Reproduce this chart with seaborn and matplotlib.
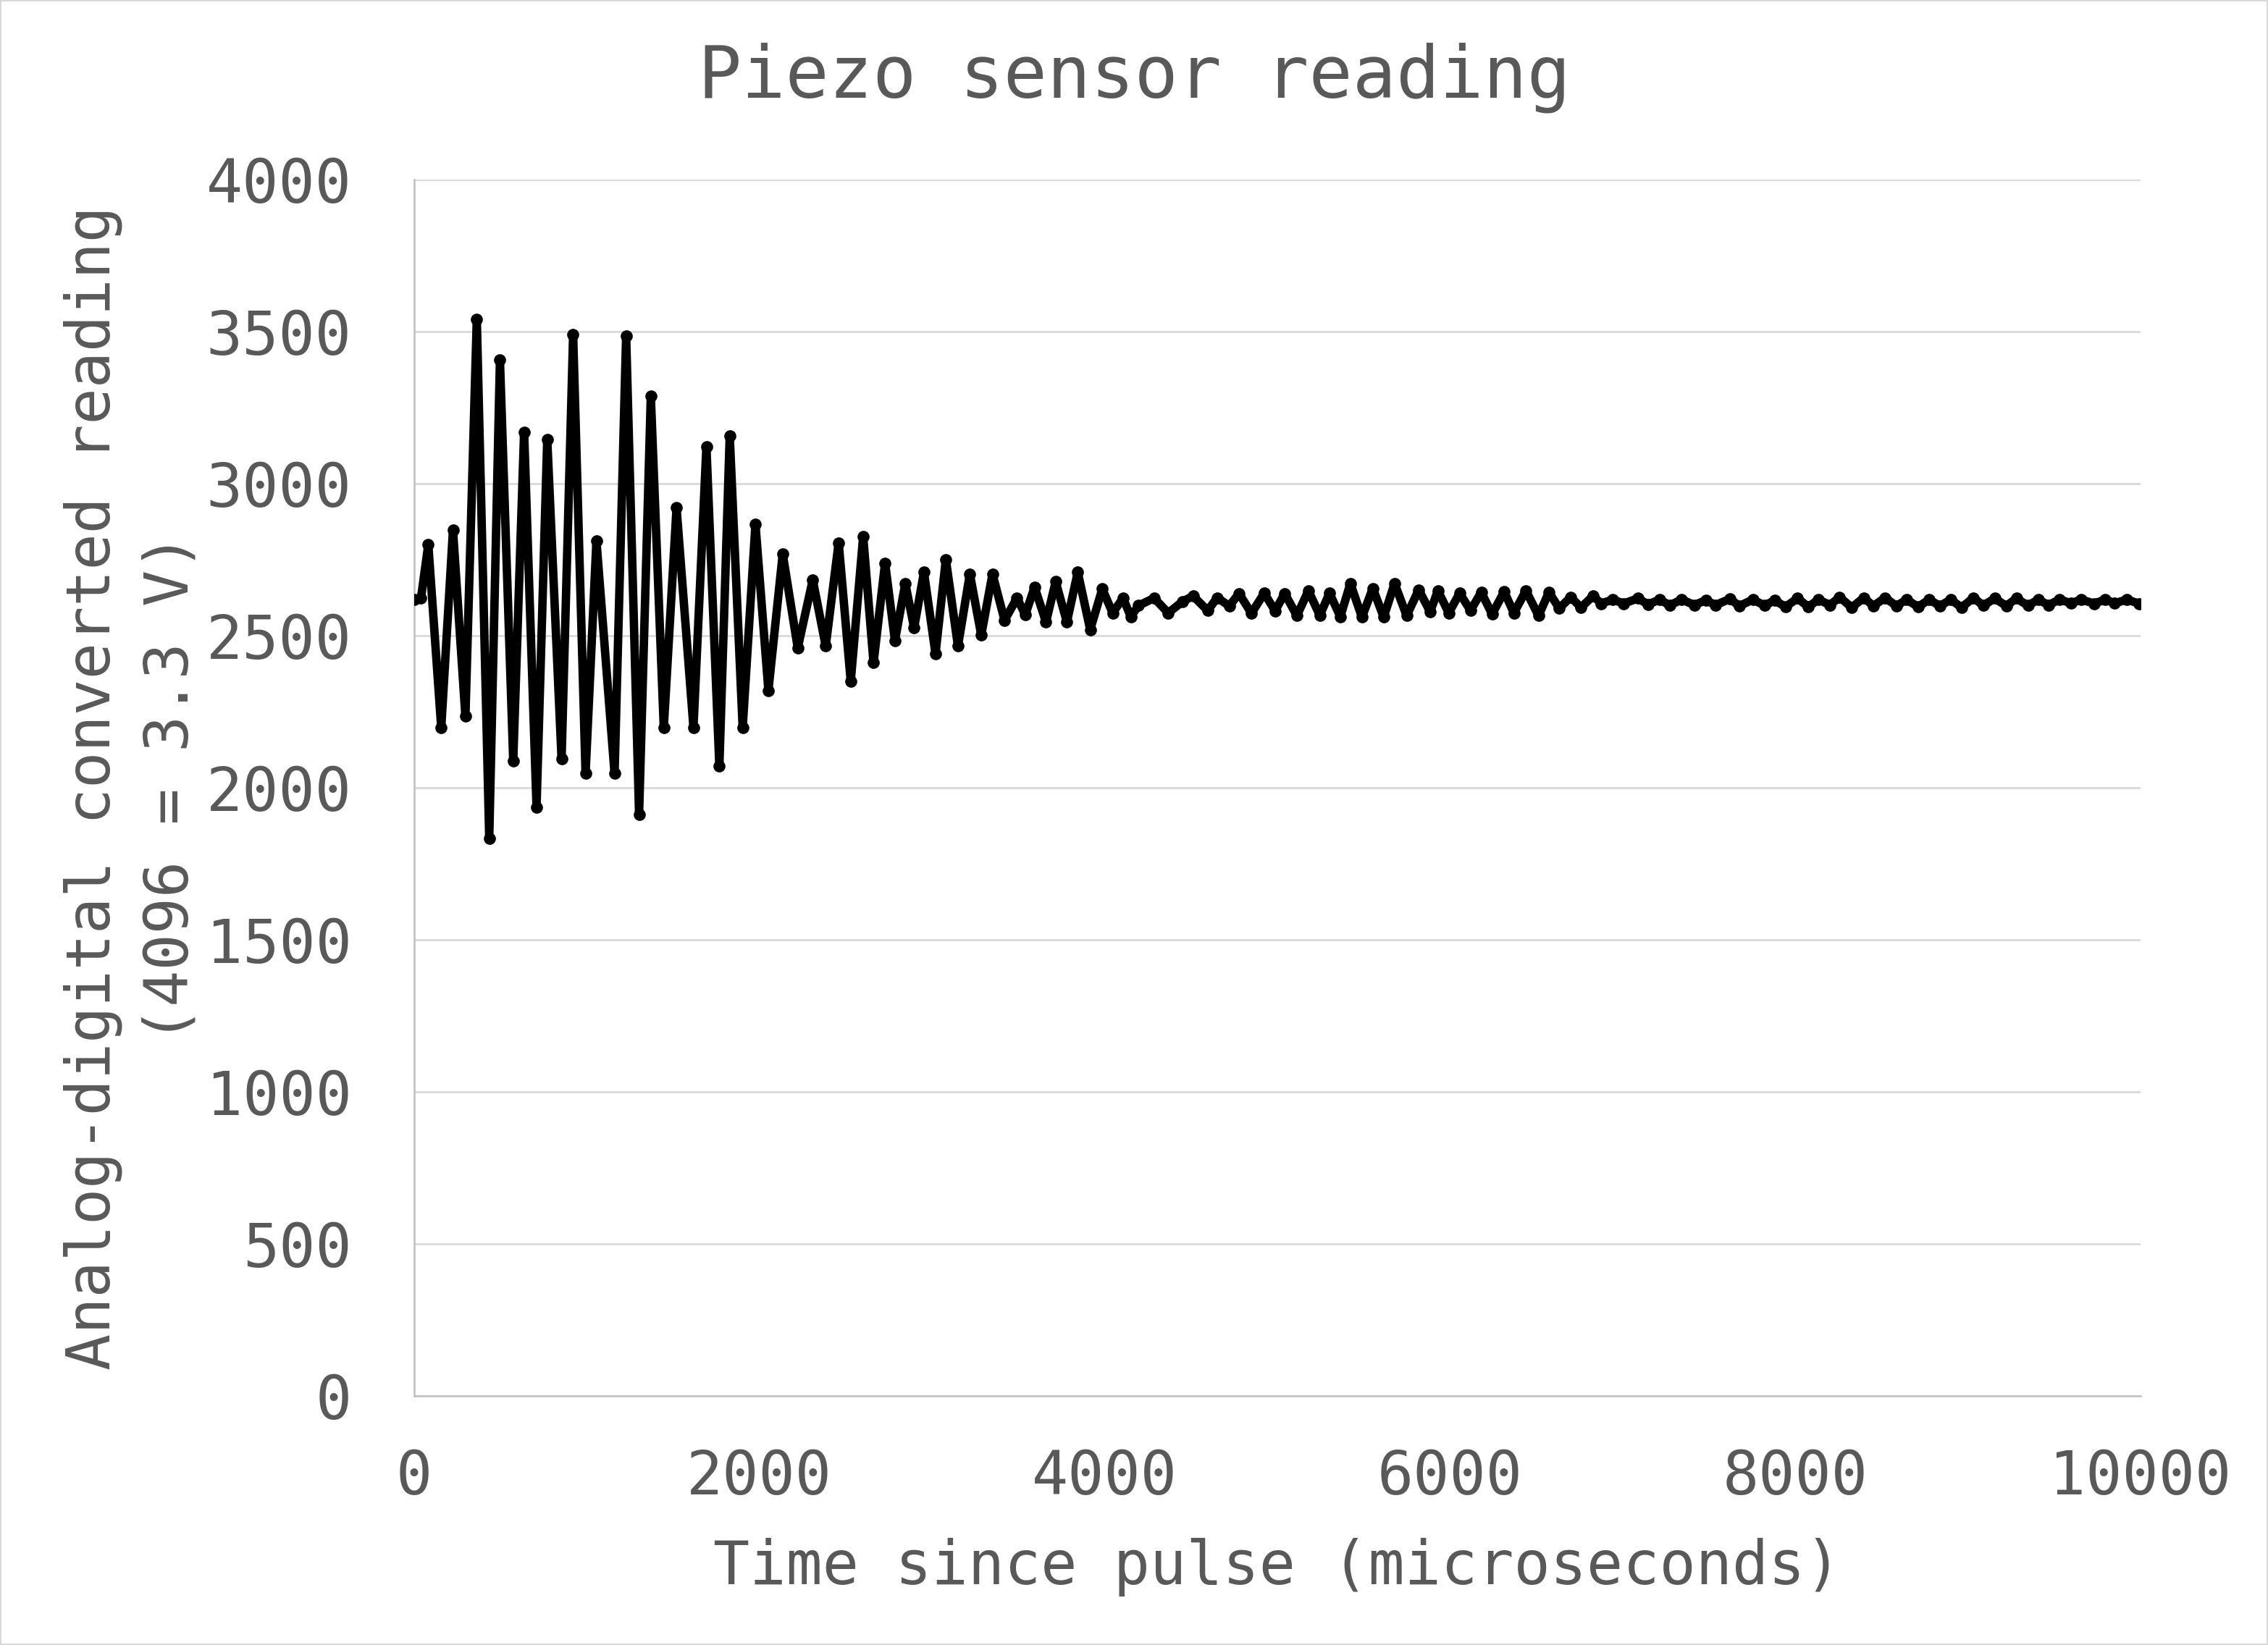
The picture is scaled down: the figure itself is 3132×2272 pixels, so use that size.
import matplotlib
matplotlib.use("Agg")
import matplotlib.pyplot as plt
from matplotlib.patches import Rectangle
import seaborn as sns
import pandas as pd

# Turning points (peaks / troughs) of the sensor trace
time_us = [
    0, 40, 82, 157, 225, 297, 363, 435, 497, 574, 637, 709, 771, 854, 921, 993,
    1056, 1161, 1228, 1303, 1371, 1446, 1520, 1618, 1693, 1768, 1828, 1903, 1977,
    2052, 2135, 2222, 2309, 2384, 2459, 2529, 2601, 2661, 2728, 2785, 2845, 2896,
    2953, 3020, 3080, 3150, 3219, 3285, 3350, 3420, 3492, 3540, 3594, 3660, 3716,
    3781, 3844, 3916, 3986, 4046, 4106, 4151, 4196, 4286, 4368, 4450, 4512, 4596,
    4652, 4722, 4778, 4850, 4924, 4987, 5043, 5113, 5180, 5246, 5302, 5365, 5423,
    5490, 5553, 5616, 5679, 5749, 5819, 5885, 5930, 5993, 6056, 6119, 6181, 6244,
    6314, 6370, 6440, 6513, 6573, 6633, 6699, 6759, 6829, 6876, 6943, 7006, 7090,
    7146, 7216, 7272, 7342, 7416, 7482, 7538, 7621, 7677, 7754, 7824, 7880, 7943,
    8013, 8076, 8134, 8201, 8257, 8327, 8397, 8453, 8520, 8586, 8645, 8712, 8775,
    8838, 8901, 8963, 9033, 9089, 9155, 9222, 9281, 9348, 9407, 9467, 9530, 9599,
    9655, 9732, 9795, 9851, 9921, 9990,
]
adc_reading = [
    2620, 2625, 2800, 2198, 2848, 2235, 3541, 1834, 3407, 2089, 3170, 1937, 3146,
    2095, 3490, 2047, 2812, 2047, 3486, 1913, 3288, 2198, 2921, 2198, 3122, 2071,
    3158, 2198, 2867, 2320, 2769, 2460, 2684, 2466, 2806, 2350, 2827, 2411, 2739,
    2484, 2672, 2526, 2709, 2441, 2751, 2466, 2703, 2502, 2703, 2551, 2624, 2569,
    2660, 2545, 2678, 2545, 2709, 2520, 2654, 2575, 2624, 2563, 2599, 2624, 2575,
    2612, 2631, 2583, 2625, 2598, 2639, 2574, 2640, 2582, 2639, 2566, 2648, 2567,
    2640, 2563, 2672, 2561, 2656, 2561, 2672, 2566, 2651, 2579, 2648, 2575, 2640,
    2583, 2643, 2571, 2645, 2575, 2648, 2566, 2643, 2590, 2627, 2593, 2631, 2606,
    2619, 2606, 2623, 2603, 2619, 2600, 2619, 2601, 2617, 2601, 2621, 2598, 2619,
    2599, 2617, 2595, 2623, 2595, 2619, 2601, 2627, 2593, 2625, 2598, 2625, 2598,
    2619, 2595, 2619, 2598, 2619, 2593, 2625, 2599, 2623, 2598, 2623, 2599, 2619,
    2601, 2619, 2607, 2619, 2606, 2619, 2607, 2619, 2606,
]

x_ticks = [0, 2000, 4000, 6000, 8000, 10000]
y_ticks = [0, 500, 1000, 1500, 2000, 2500, 3000, 3500, 4000]

title = "Piezo sensor reading"
x_label = "Time since pulse (microseconds)"
y_label = "Analog-digital converted reading\n(4096 = 3.3 V)"

df = pd.DataFrame({"t": time_us, "v": adc_reading})

sns.set_theme(style="white")
plt.rcParams["font.family"] = ["DejaVu Sans Mono", "DejaVu Sans"]
text_color = "#595959"

fig = plt.figure(figsize=(15.66, 11.36), dpi=200)
ax = fig.add_axes([0.1826, 0.1514, 0.9438 - 0.1826, 0.8908 - 0.1514])

sns.lineplot(data=df, x="t", y="v", sort=False, estimator=None, ax=ax,
             color="black", linewidth=4.2, marker="o", markersize=6.0,
             markeredgewidth=0, solid_joinstyle="round",
             solid_capstyle="round", zorder=3)

ax.set_xlim(0, 10000)
ax.set_ylim(0, 4000)
ax.set_xticks(x_ticks)
ax.set_yticks(y_ticks)
ax.set_xticklabels([str(v) for v in x_ticks])
ax.set_yticklabels([str(v) for v in y_ticks])
ax.tick_params(axis="both", length=0, labelsize=30, colors=text_color)
ax.tick_params(axis="y", pad=31)
ax.tick_params(axis="x", pad=26)

ax.grid(axis="y", color="#D9D9D9", linewidth=1.0, zorder=0)
ax.grid(axis="x", visible=False)
for side in ["top", "right"]:
    ax.spines[side].set_visible(False)
for side in ["left", "bottom"]:
    ax.spines[side].set_color("#BFBFBF")
    ax.spines[side].set_linewidth(0.9)

ax.set_xlabel(x_label, fontsize=30, color=text_color)
ax.xaxis.set_label_coords(0.5, -0.141)
ax.xaxis.label.set_va("center")
ax.set_ylabel(y_label, fontsize=30, color=text_color, linespacing=1.42)
ax.yaxis.label.set_va("center")
ax.yaxis.set_label_coords(-0.1636, 0.5)

fig.text(0.5, 1 - 107 / 2272, title, ha="center", va="center",
         fontsize=36, color=text_color)

fig.patches.append(Rectangle((0, 0), 1, 1, transform=fig.transFigure,
                             fill=False, edgecolor="#D9D9D9", linewidth=1.5))

fig.savefig("out.png", dpi=200, facecolor="white")
